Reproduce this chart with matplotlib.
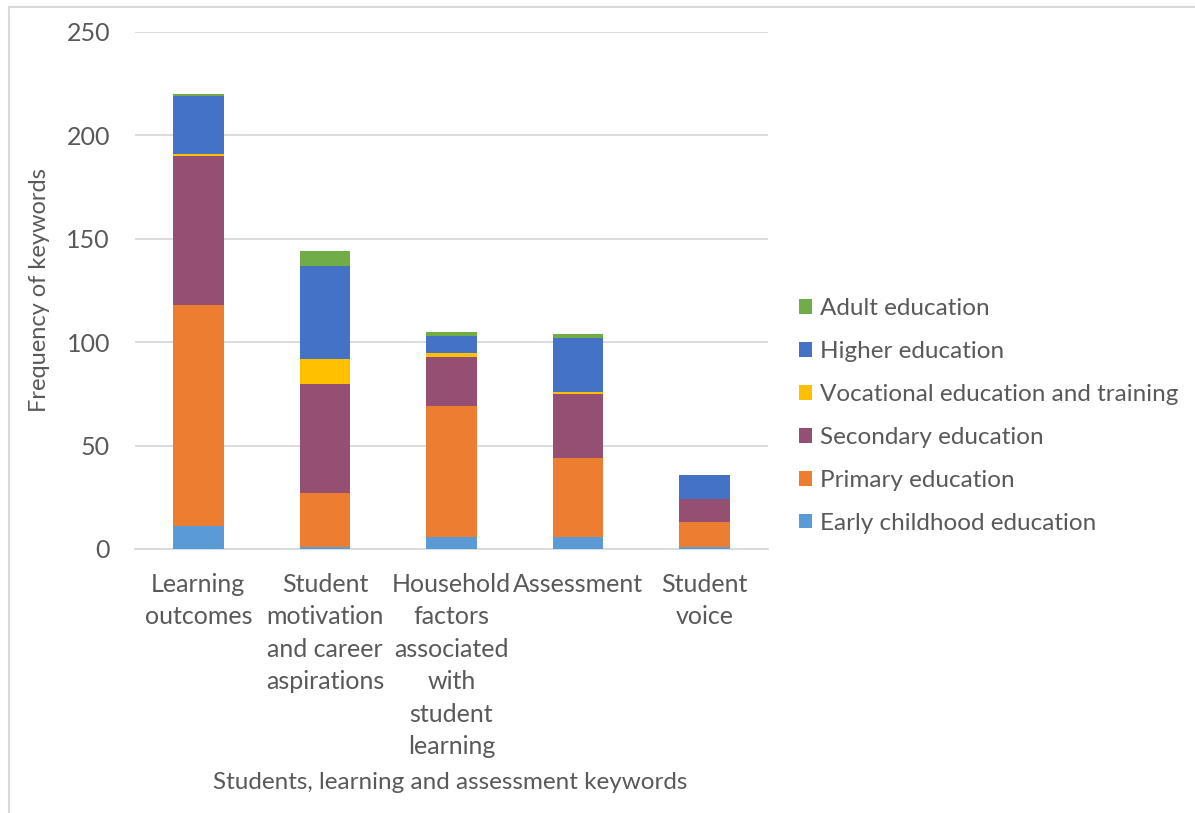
import matplotlib
matplotlib.use("Agg")
import matplotlib.pyplot as plt
from matplotlib.lines import Line2D
from matplotlib.patches import Patch
import numpy as np

categories = ["Learning\noutcomes",
              "Student\nmotivation\nand career\naspirations",
              "Household\nfactors\nassociated\nwith\nstudent\nlearning",
              "Assessment",
              "Student\nvoice"]
series_names = ["Early childhood education", "Primary education", "Secondary education",
                "Vocational education and training", "Higher education", "Adult education"]
early = [11, 1, 6, 6, 1]
primary = [107, 26, 63, 38, 12]
secondary = [72, 53, 24, 31, 11]
vocational = [1, 12, 2, 1, 0]
higher = [28, 45, 8, 26, 12]
adult = [1, 7, 2, 2, 0]
colors = ["#5B9BD5", "#ED7D31", "#954F72", "#FFC000", "#4472C4", "#70AD47"]
yticks = [0, 50, 100, 150, 200, 250]

plt.rcParams['font.family'] = ['Lato', 'DejaVu Sans']
txt = "#595959"

fig = plt.figure(figsize=(11.95, 8.13), dpi=100)
ax = fig.add_axes([135/1195, 1-549/813, (768-135)/1195, (549-32)/813])

data = [early, primary, secondary, vocational, higher, adult]
x = np.arange(len(categories))
bottom = np.zeros(len(categories))
for vals, c, name in zip(data, colors, series_names):
    ax.bar(x, vals, 0.4, bottom=bottom, color=c, label=name, zorder=3)
    bottom += np.array(vals)

ax.set_xlim(-0.5, len(categories)-0.5)
ax.set_ylim(0, 250)
ax.set_yticks(yticks)
ax.set_yticklabels([str(v) for v in yticks])
ax.set_xticks(x)
ax.set_xticklabels(categories, linespacing=1.5)
ax.tick_params(axis='both', length=0, labelsize=18, colors=txt)
ax.tick_params(axis='y', pad=18)
ax.tick_params(axis='x', pad=17)
ax.grid(axis='y', color='#d9d9d9', linewidth=1.3, zorder=0)
for s in ['top', 'right', 'left']:
    ax.spines[s].set_visible(False)
ax.spines['bottom'].set_color('#d9d9d9')
ax.spines['bottom'].set_linewidth(1.3)

ax.set_ylabel("Frequency of keywords", fontsize=17, color=txt)
ax.yaxis.set_label_coords(-0.135, 0.5)
fig.text(450/1195, 1-782/813, "Students, learning and assessment keywords",
         fontsize=17.5, color=txt, ha='center', va='center')

handles = [Patch(facecolor=c, label=n) for c, n in zip(colors, series_names)][::-1]
leg = fig.legend(handles=handles, loc='center left', bbox_to_anchor=(777/1195, 1-416/813),
                 frameon=False, fontsize=17.5, labelcolor=txt, handlelength=0.55,
                 handleheight=0.55, handletextpad=0.3, labelspacing=0.9)

# chart border (left and top)
fig.add_artist(Line2D([8.5/1195, 8.5/1195], [0, 1-7.5/813], transform=fig.transFigure,
                      color='#d9d9d9', linewidth=1.5))
fig.add_artist(Line2D([8.5/1195, 1], [1-7.5/813, 1-7.5/813], transform=fig.transFigure,
                      color='#d9d9d9', linewidth=1.5))

fig.savefig("out.png", dpi=100)
